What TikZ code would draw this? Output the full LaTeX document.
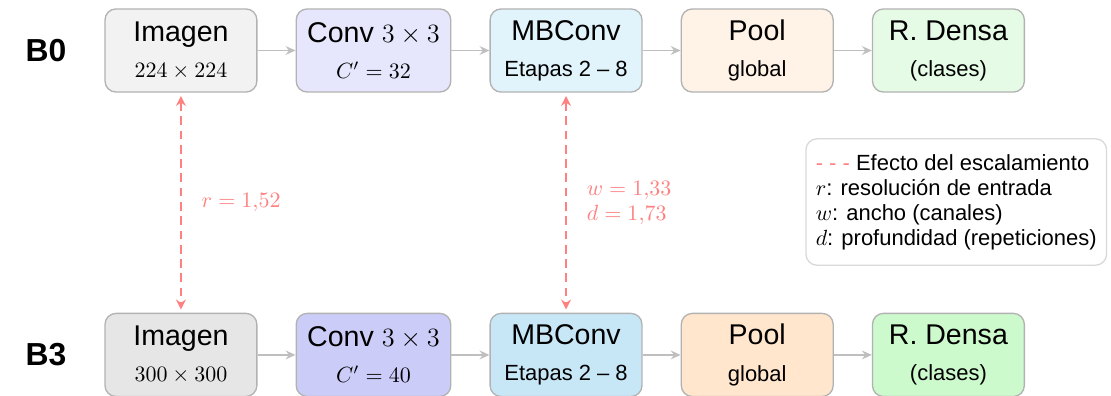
\documentclass[tikz,border=0pt]{standalone}
\usepackage{amsmath}
\usepackage{amssymb}
\usepackage{fontspec}
\setsansfont{Liberation Sans}
\usepackage{xcolor}
\usepackage{tikz}
\usetikzlibrary{
	arrows.meta, 
	positioning
}

\definecolor{imgA}{HTML}{F2F2F2}
\definecolor{imgB}{HTML}{E6E6E6}
\definecolor{convA}{HTML}{E6E6FC}
\definecolor{convB}{HTML}{CCCCF8}
\definecolor{mbA}{HTML}{E1F3FB}
\definecolor{mbB}{HTML}{C7E7F7}
\definecolor{poolA}{HTML}{FFF2E6}
\definecolor{poolB}{HTML}{FFE6CC}
\definecolor{densaA}{HTML}{E6FBE6}
\definecolor{densaB}{HTML}{CCFACC}
\definecolor{escrojo}{HTML}{FF8080}

\newcommand{\grande}{\fontsize{13}{16.4}\selectfont}

\begin{document}
\begin{tikzpicture}[
		font=\sffamily\fontsize{10}{16.4}\selectfont,
		node distance=0.608cm,
		etapa/.style={draw=gray!60, line width=0.6pt, rounded corners=5pt, minimum width=2.43cm, minimum height=1.33cm, inner xsep=5pt, align=center},
		modelo/.style={font=\sffamily\bfseries\fontsize{14.5}{17}\selectfont, inner sep=0pt},
		flujo/.style={-{Stealth[length=4.5pt, width=4pt, inset=1.5pt]}, thick, gray!50},
		escala/.style={{Stealth[length=4.5pt, width=4.5pt, inset=1.5pt]}-{Stealth[length=4.5pt, width=4.5pt, inset=1.5pt]}, line width=1.1pt, escrojo, dash pattern=on 4pt off 2.5pt, shorten <=1.5pt, shorten >=1.5pt},
		factor/.style={text=escrojo, inner sep=0pt, align=left, font=\fontsize{10}{11.4}\selectfont}
	]
		\useasboundingbox (0,0) rectangle (17.776,-6.336);
		% fila B0
		\node[etapa, fill=imgA] (img0) at (2.895,-0.808) {{\grande Imagen}\\$224\times224$};
		\node[etapa, fill=convA, right=of img0] (conv0) {{\grande Conv $3\times3$}\\$C'=32$};
		\node[etapa, fill=mbA, right=of conv0] (mb0) {{\grande MBConv}\\Etapas 2 -- 8};
		\node[etapa, fill=poolA, right=of mb0] (pool0) {{\grande Pool}\\global};
		\node[etapa, fill=densaA, right=of pool0] (densa0) {{\grande R. Densa}\\(clases)};
		\node[modelo, left=0.6cm of img0] (b0) {B0};
		% fila B3
		\node[etapa, fill=imgB, below=3.52cm of img0] (img3) {{\grande Imagen}\\$300\times300$};
		\node[etapa, fill=convB, right=of img3] (conv3) {{\grande Conv $3\times3$}\\$C'=40$};
		\node[etapa, fill=mbB, right=of conv3] (mb3) {{\grande MBConv}\\Etapas 2 -- 8};
		\node[etapa, fill=poolB, right=of mb3] (pool3) {{\grande Pool}\\global};
		\node[etapa, fill=densaB, right=of pool3] (densa3) {{\grande R. Densa}\\(clases)};
		\node[modelo, left=0.6cm of img3] (b3) {B3};
		% flechas de cada fila
		\draw[flujo] (img0) -- (conv0);
		\draw[flujo] (conv0) -- (mb0);
		\draw[flujo] (mb0) -- (pool0);
		\draw[flujo] (pool0) -- (densa0);
		\draw[flujo] (img3) -- (conv3);
		\draw[flujo] (conv3) -- (mb3);
		\draw[flujo] (mb3) -- (pool3);
		\draw[flujo] (pool3) -- (densa3);
		% escalamiento B0 -> B3
		\draw[escala] (img0) -- (img3) node[factor, midway, right=8.9pt] (fr) {$r=1{,}52$};
		\draw[escala] (mb0) -- (mb3) node[factor, midway, right=8.9pt] (fwd) {$w=1{,}33$\\$d=1{,}73$};
		% leyenda
		\node[draw=gray!30, line width=0.6pt, rounded corners=5pt, fill=white, align=left, inner xsep=4.5pt, inner ysep=7pt, font=\sffamily\fontsize{10}{11.4}\selectfont] (leyenda) at (15.30,-3.232) {{\color{escrojo}- - -} Efecto del escalamiento\\$r$: resolución de entrada\\$w$: ancho (canales)\\$d$: profundidad (repeticiones)};
	\end{tikzpicture}
\end{document}
